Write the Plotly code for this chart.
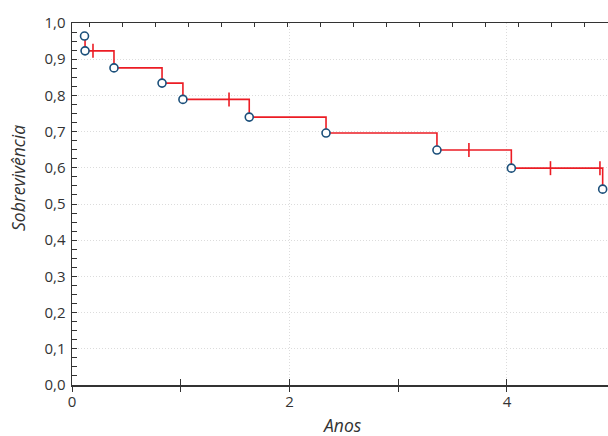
import plotly.graph_objects as go

# Kaplan-Meier event points (time in years, survival)
event_times = [0.115, 0.12, 0.386, 0.828, 1.02, 1.63, 2.336, 3.356, 4.04, 4.88]
event_surv = [0.964, 0.923, 0.876, 0.834, 0.789, 0.740, 0.696, 0.649, 0.599, 0.541]
# censored observations
censor_times = [0.193, 1.444, 3.65, 4.40, 4.855]
censor_surv = [0.923, 0.789, 0.649, 0.599, 0.599]

y_ticks = [0.0, 0.1, 0.2, 0.3, 0.4, 0.5, 0.6, 0.7, 0.8, 0.9, 1.0]
x_ticks = [0, 2, 4]

RED = "rgb(236,28,36)"
BLUE = "#1b4f7a"
AXIS = "#333333"
GRID = "#dcdcdc"
FONT = "Open Sans, Noto Sans, sans-serif"
XMAX = 4.929

fig = go.Figure()
fig.add_trace(go.Scatter(
    x=event_times, y=event_surv, mode="lines", line=dict(color=RED, width=1.6, shape="hv"),
    hoverinfo="skip", showlegend=False, cliponaxis=False))
fig.add_trace(go.Scatter(
    x=censor_times, y=censor_surv, mode="markers",
    marker=dict(symbol="line-ns", size=10, line=dict(color=RED, width=1.6)),
    showlegend=False, cliponaxis=False))
fig.add_trace(go.Scatter(
    x=event_times, y=event_surv, mode="markers",
    marker=dict(symbol="circle", size=8, color="white", line=dict(color=BLUE, width=1.6)),
    showlegend=False, cliponaxis=False))

fig.update_layout(
    width=608, height=436,
    margin=dict(l=72, r=0, t=23, b=51, autoexpand=False),
    paper_bgcolor="white", plot_bgcolor="white",
    separators=", ",
    font=dict(family=FONT, size=15, color=AXIS),
    xaxis=dict(
        range=[0, XMAX], tickvals=x_ticks, ticktext=[str(v) for v in x_ticks],
        ticks="inside", ticklen=6, tickcolor=AXIS, tickwidth=1,
        minor=dict(dtick=1, tick0=0, ticks="inside", ticklen=6, tickcolor=AXIS, showgrid=False),
        showline=True, linecolor=AXIS, linewidth=1.5,
        showgrid=True, gridcolor=GRID, griddash="1px,2px", gridwidth=1,
        zeroline=False, automargin=False, ticklabelstandoff=2,
        tickfont=dict(size=15),
    ),
    xaxis3=dict(
        range=[0, XMAX], overlaying="x", side="bottom", tickmode="linear", tick0=0, dtick=1,
        ticks="outside", ticklen=6, tickcolor=AXIS, showticklabels=False,
        showline=False, showgrid=False, zeroline=False, automargin=False,
    ),
    xaxis2=dict(
        range=[0, XMAX], overlaying="x", side="top", tickmode="linear", tick0=0.159, dtick=0.3034,
        ticks="inside", ticklen=4, tickcolor=AXIS, showticklabels=False,
        showline=True, linecolor=AXIS, linewidth=1.5, showgrid=False, zeroline=False,
        automargin=False,
    ),
    yaxis=dict(
        range=[0, 1.0], tickvals=y_ticks, tickformat=".1f",
        ticks="inside", ticklen=5, tickcolor=AXIS,
        minor=dict(dtick=0.025, tick0=0, ticks="inside", ticklen=5, tickcolor=AXIS, showgrid=False),
        showline=True, linecolor=AXIS, linewidth=1.5,
        showgrid=True, gridcolor=GRID, griddash="1px,2px", gridwidth=1,
        zeroline=False, automargin=False, ticklabelstandoff=2,
        tickfont=dict(size=15),
    ),
    annotations=[
        dict(text="<i>Anos</i>", xref="paper", yref="paper", x=0.505, y=-0.111,
             xanchor="center", yanchor="middle", showarrow=False,
             font=dict(size=17.5, family=FONT, color=AXIS)),
        dict(text="<i>Sobrevivência</i>", xref="paper", yref="paper", x=-0.1007, y=0.572,
             xanchor="center", yanchor="middle", showarrow=False, textangle=-90,
             font=dict(size=17.5, family=FONT, color=AXIS)),
    ],
)
# dummy traces to activate overlay axes
fig.add_trace(go.Scatter(x=[None], y=[None], xaxis="x2", showlegend=False))
fig.add_trace(go.Scatter(x=[None], y=[None], xaxis="x3", showlegend=False))

fig.write_html("out.html", config={"displayModeBar": False, "staticPlot": True},
               post_script="document.body.style.margin='0';document.body.style.overflow='hidden';")
